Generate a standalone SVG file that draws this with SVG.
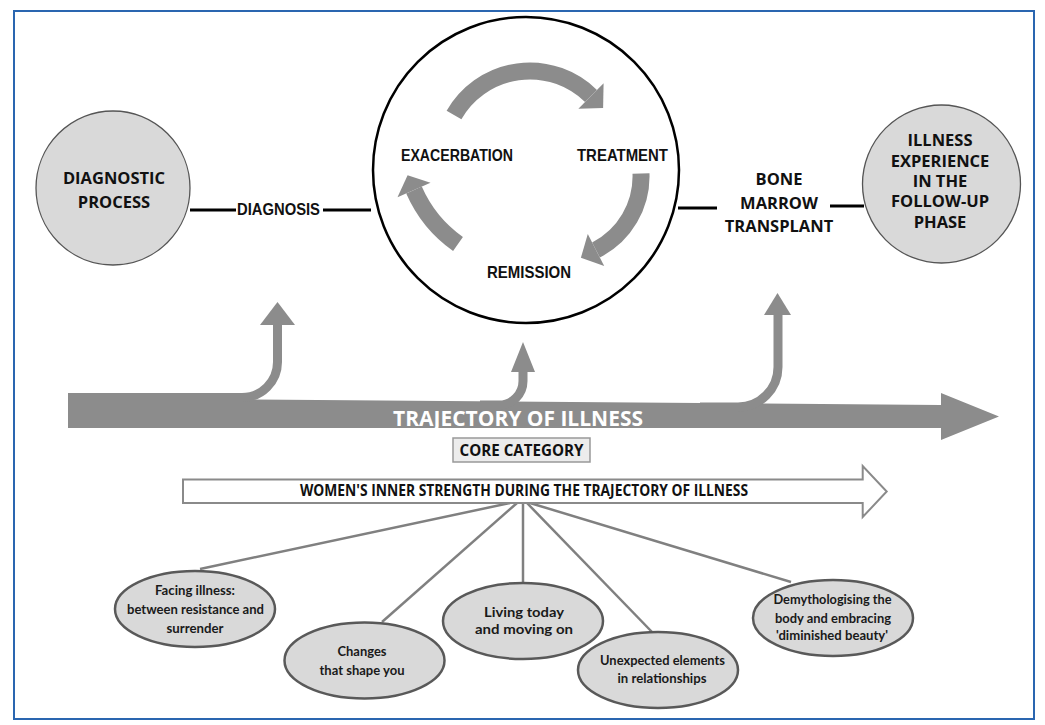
<svg xmlns="http://www.w3.org/2000/svg" width="1045" height="725" viewBox="0 0 1045 725">
<defs>
<style>
.frame{fill:#fff;stroke:#2a66b0;stroke-width:2}
.bigc{fill:none;stroke:#000;stroke-width:2.5}
.gc{fill:#d9d9d9;stroke:#555;stroke-width:1.3}
.conn{stroke:#000;stroke-width:3.2;fill:none}
.gray{fill:#8c8c8c}
.cyc{fill:none;stroke:#8c8c8c;stroke-width:17}
.br{fill:none;stroke:#8c8c8c;stroke-width:9}
.fan{stroke:#808080;stroke-width:2.5;fill:none}
.ell{fill:#d9d9d9;stroke:#595959;stroke-width:2.5}
.t1{font-family:"Open Sans",sans-serif;font-weight:700;font-size:16.5px;fill:#111;text-anchor:middle}
.ta{font-family:"Liberation Sans",Arial,sans-serif;font-weight:700;font-size:16.5px;fill:#111}
.te{font-family:Lato,sans-serif;font-weight:700;font-size:14px;fill:#1a1a1a;text-anchor:middle}
</style>
</defs>
<rect class="frame" x="14" y="11" width="1020" height="708"/>

<g id="connectors">
<line class="conn" x1="190" y1="210" x2="236" y2="210"/>
<line class="conn" x1="323" y1="210" x2="371" y2="210"/>
<line class="conn" x1="678" y1="208" x2="717" y2="208"/>
<line class="conn" x1="830" y1="206" x2="864" y2="206"/>
<line class="fan" x1="510" y1="503" x2="200" y2="569"/>
<line class="fan" x1="517" y1="503" x2="382" y2="622"/>
<line class="fan" x1="523" y1="503" x2="523" y2="583"/>
<line class="fan" x1="527" y1="503" x2="652" y2="632"/>
<line class="fan" x1="530" y1="503" x2="791" y2="582"/>
</g>

<g id="diagnostic-process">
<circle class="gc" cx="113" cy="188" r="77"/>
<text class="t1" x="114" y="184">DIAGNOSTIC</text>
<text class="t1" x="114" y="208">PROCESS</text>
</g>

<g id="diagnosis">
<text class="ta" x="237" y="214.5" font-size="15" textLength="83" lengthAdjust="spacingAndGlyphs">DIAGNOSIS</text>
</g>

<g id="cycle">
<circle class="bigc" cx="526" cy="170" r="153"/>
<path class="cyc" d="M454,115 A87.3,87.3 0 0 1 591,96"/>
<polygon class="gray" points="603.6,83.2 603.1,107.9 578.4,108.8"/>
<path class="cyc" d="M641,173.5 A82.7,82.7 0 0 1 596,250"/>
<polygon class="gray" points="604.2,266 580.9,257.7 587.8,234"/>
<path class="cyc" d="M458,244 A130,130 0 0 1 414,190"/>
<polygon class="gray" points="397.5,197.2 407.6,175.3 430.5,182.8"/>
<text class="ta" x="401" y="160.5" textLength="112" lengthAdjust="spacingAndGlyphs">EXACERBATION</text>
<text class="ta" x="577" y="160.5" textLength="91" lengthAdjust="spacingAndGlyphs">TREATMENT</text>
<text class="ta" x="487" y="277.5" textLength="84" lengthAdjust="spacingAndGlyphs">REMISSION</text>
</g>

<g id="bone-marrow-transplant">
<text class="t1" x="779" y="185">BONE</text>
<text class="t1" x="779" y="209">MARROW</text>
<text class="t1" x="779" y="232">TRANSPLANT</text>
</g>

<g id="follow-up">
<circle class="gc" cx="941.5" cy="184" r="79"/>
<text class="t1" x="940" y="146" font-size="16">ILLNESS</text>
<text class="t1" x="940" y="166.5" font-size="16">EXPERIENCE</text>
<text class="t1" x="940" y="187" font-size="16">IN THE</text>
<text class="t1" x="940" y="207" font-size="16">FOLLOW-UP</text>
<text class="t1" x="940" y="227.5" font-size="16">PHASE</text>
</g>

<g id="trajectory">
<polygon class="gray" points="68,398 941,405 941,393 999,416.5 941,440 941,428 68,428"/>
<path class="br" d="M68,397.5 H242 A35.5,35.5 0 0 0 277.5,362 V322"/>
<polygon class="gray" points="260,325 277.5,302 295,325"/>
<path class="br" d="M480,405 H499 A24,24 0 0 0 523,381 V368"/>
<polygon class="gray" points="511,372 523,342 535,372"/>
<path class="br" d="M700,407 H738 A40,40 0 0 0 778,367 V312"/>
<polygon class="gray" points="764,315 777.5,293 791,315"/>
<text x="518" y="426" font-family="'Open Sans',sans-serif" font-weight="700" font-size="21.5" fill="#fff" text-anchor="middle" textLength="250" lengthAdjust="spacingAndGlyphs">TRAJECTORY OF ILLNESS</text>
</g>

<g id="core-category">
<rect x="453" y="438" width="137" height="24" fill="#ececec" stroke="#999" stroke-width="1.5"/>
<text class="t1" x="521.5" y="456" font-size="15" textLength="124" lengthAdjust="spacingAndGlyphs">CORE CATEGORY</text>
</g>

<g id="inner-strength">
<polygon points="183,479.5 862.7,479.5 862.7,466 886.7,491.5 862.7,517 862.7,503 183,503" fill="#fff" stroke="#8a8a8a" stroke-width="2"/>
<text class="t1" x="524" y="495.5" font-size="14.5" textLength="448" lengthAdjust="spacingAndGlyphs">WOMEN'S INNER STRENGTH DURING THE TRAJECTORY OF ILLNESS</text>
</g>

<g id="facing-illness">
<ellipse class="ell" cx="195" cy="609" rx="80" ry="38"/>
<text class="te" x="195" y="595" textLength="80" lengthAdjust="spacingAndGlyphs">Facing illness:</text>
<text class="te" x="195.5" y="614" textLength="137" lengthAdjust="spacingAndGlyphs">between resistance and</text>
<text class="te" x="195" y="633" textLength="57" lengthAdjust="spacingAndGlyphs">surrender</text>
</g>

<g id="changes">
<ellipse class="ell" cx="364.5" cy="660.5" rx="80" ry="38"/>
<text class="te" x="362" y="656" textLength="49" lengthAdjust="spacingAndGlyphs">Changes</text>
<text class="te" x="362" y="675" textLength="85" lengthAdjust="spacingAndGlyphs">that shape you</text>
</g>

<g id="living-today">
<ellipse class="ell" cx="523" cy="621" rx="80" ry="38"/>
<text class="te" x="524" y="617" font-size="16" textLength="80" lengthAdjust="spacingAndGlyphs">Living today</text>
<text class="te" x="524" y="634" font-size="16" textLength="98" lengthAdjust="spacingAndGlyphs">and moving on</text>
</g>

<g id="unexpected">
<ellipse class="ell" cx="658" cy="670" rx="80" ry="38"/>
<text class="te" x="662.5" y="665" textLength="125" lengthAdjust="spacingAndGlyphs">Unexpected elements</text>
<text class="te" x="662" y="683" textLength="89" lengthAdjust="spacingAndGlyphs">in relationships</text>
</g>

<g id="demythologising">
<ellipse class="ell" cx="833" cy="618" rx="80" ry="38"/>
<text class="te" x="832.5" y="604" textLength="118" lengthAdjust="spacingAndGlyphs">Demythologising the</text>
<text class="te" x="833" y="622.5" textLength="116" lengthAdjust="spacingAndGlyphs">body and embracing</text>
<text class="te" x="832" y="640" textLength="112" lengthAdjust="spacingAndGlyphs">'diminished beauty'</text>
</g>
</svg>
